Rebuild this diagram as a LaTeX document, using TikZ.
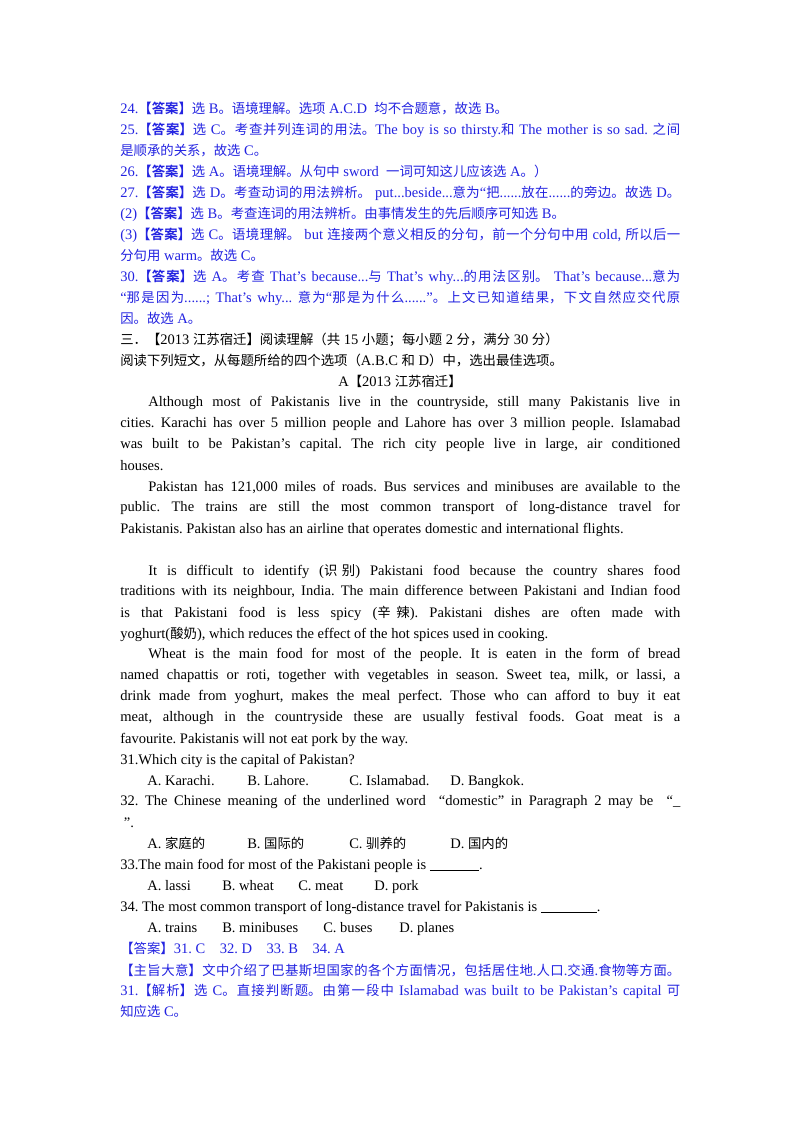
\documentclass[tikz,border=0pt]{standalone}
\usepackage{fontspec}
\setmainfont{Liberation Serif}
\newfontfamily\cjk[Scale=0.92]{Noto Sans CJK SC}
\newfontfamily\cjkb[Scale=0.92]{Noto Sans CJK SC Bold}
\definecolor{ansblue}{RGB}{35,35,225}
\XeTeXinterchartokenstate=1
\newXeTeXintercharclass\CJKcls
\count255="4E00 \loop \XeTeXcharclass\count255=\CJKcls \ifnum\count255<"9FFF \advance\count255 1 \repeat
\count255="3000 \loop \XeTeXcharclass\count255=\CJKcls \ifnum\count255<"303F \advance\count255 1 \repeat
\count255="FF00 \loop \XeTeXcharclass\count255=\CJKcls \ifnum\count255<"FFEF \advance\count255 1 \repeat
\XeTeXinterchartoks 0 \CJKcls = {\begingroup\cjk}
\XeTeXinterchartoks 4095 \CJKcls = {\begingroup\cjk}
\XeTeXinterchartoks \CJKcls 0 = {\endgroup}
\XeTeXinterchartoks \CJKcls 4095 = {\endgroup}
\XeTeXlinebreaklocale "zh"
\XeTeXlinebreakskip=0pt plus 1pt minus 0.3pt
\newcommand\DA{{\XeTeXinterchartokenstate=0 \cjkb 【答案】}}
\newcommand\ZZ{{\XeTeXinterchartokenstate=0 \cjk 【主旨大意】}}
\newcommand\JX{{\XeTeXinterchartokenstate=0 \cjk 【解析】}}
\newcommand\Lf[2]{\node[txt] at (120,#1) {\parbox{420pt}{\parfillskip=0pt\relax\hbadness=10000 #2}};}
\newcommand\Ln[2]{\node[txt] at (120,#1) {#2};}
\newcommand\Lx[3]{\node[txt] at (#1,#2) {#3};}
\tikzset{txt/.style={anchor=base west,inner sep=0pt,font=\fontsize{10.9pt}{13pt}\selectfont\frenchspacing}}
\begin{document}
\begin{tikzpicture}[x=0.75pt,y=-0.75pt]
\useasboundingbox[fill=white] (0,0) rectangle (800,1132);
\Ln{113}{\color{ansblue}24.\DA 选 B。语境理解。选项 A.C.D\ \ 均不合题意，故选 B。}
\Lf{134}{\color{ansblue}25.\DA 选 C。考查并列连词的用法。The boy is so thirsty.和 The mother is so sad. 之间}
\Ln{155}{\color{ansblue}是顺承的关系，故选 C。}
\Ln{176}{\color{ansblue}26.\DA 选 A。语境理解。从句中 sword\ \ 一词可知这儿应该选 A。）}
\Lf{197}{\color{ansblue}27.\DA 选 D。考查动词的用法辨析。 put...beside...意为“把......放在......的旁边。故选 D。}
\Ln{218}{\color{ansblue}(2)\DA 选 B。考查连词的用法辨析。由事情发生的先后顺序可知选 B。}
\Lf{239}{\color{ansblue}(3)\DA 选 C。语境理解。 but 连接两个意义相反的分句，前一个分句中用 cold, 所以后一}
\Ln{260}{\color{ansblue}分句用 warm。故选 C。}
\Lf{281}{\color{ansblue}30.\DA 选 A。考查 That’s because...与 That’s why...的用法区别。 That’s because...意为}
\Lf{302}{\color{ansblue}“那是因为......; That’s why... 意为“那是为什么......”。上文已知道结果，下文自然应交代原}
\Ln{323}{\color{ansblue}因。故选 A。}
\Ln{344}{三．【2013 江苏宿迁】阅读理解（共 15 小题；每小题 2 分，满分 30 分）}
\Ln{365}{阅读下列短文，从每题所给的四个选项（A.B.C 和 D）中，选出最佳选项。}
\node[txt,anchor=base] at (400,386) {A【2013 江苏宿迁】};
\Lf{407}{\hspace*{21pt}Although most of Pakistanis live in the countryside, still many Pakistanis live in}
\Lf{428}{cities. Karachi has over 5 million people and Lahore has over 3 million people. Islamabad}
\Lf{449}{was built to be Pakistan’s capital. The rich city people live in large, air conditioned}
\Ln{470}{houses.}
\Lf{491}{\hspace*{21pt}Pakistan has 121,000 miles of roads. Bus services and minibuses are available to the}
\Lf{512}{public. The trains are still the most common transport of long-distance travel for}
\Ln{533}{Pakistanis. Pakistan also has an airline that operates domestic and international flights.}
\Lf{575}{\hspace*{21pt}It is difficult to identify (识别) Pakistani food because the country shares food}
\Lf{596}{traditions with its neighbour, India. The main difference between Pakistani and Indian food}
\Lf{617}{is that Pakistani food is less spicy (辛辣). Pakistani dishes are often made with}
\Ln{638}{yoghurt(酸奶), which reduces the effect of the hot spices used in cooking.}
\Lf{659}{\hspace*{21pt}Wheat is the main food for most of the people. It is eaten in the form of bread}
\Lf{680}{named chapattis or roti, together with vegetables in season. Sweet tea, milk, or lassi, a}
\Lf{701}{drink made from yoghurt, makes the meal perfect. Those who can afford to buy it eat}
\Lf{722}{meat, although in the countryside these are usually festival foods. Goat meat is a}
\Ln{743}{favourite. Pakistanis will not eat pork by the way.}
\Ln{764}{31.Which city is the capital of Pakistan?}
\Lx{147}{785}{A.\ Karachi.}\Lx{247}{785}{B.\ Lahore.}\Lx{349}{785}{C.\ Islamabad.}\Lx{450}{785}{D.\ Bangkok.}
\Lf{806}{32. The Chinese meaning of the underlined word \ “domestic” in Paragraph 2 may be \ “\_}
\Ln{827}{\ ”.}
\Lx{147}{848}{A.\ 家庭的}\Lx{247}{848}{B.\ 国际的}\Lx{349}{848}{C.\ 驯养的}\Lx{450}{848}{D.\ 国内的}
\Ln{869}{33.The main food for most of the Pakistani people is \rule[-1pt]{37pt}{0.5pt}.}
\Lx{147}{890}{A.\ lassi}\Lx{222}{890}{B.\ wheat}\Lx{298}{890}{C.\ meat}\Lx{374}{890}{D.\ pork}
\Ln{911}{34. The most common transport of long-distance travel for Pakistanis is \rule[-1pt]{42pt}{0.5pt}.}
\Lx{147}{932}{A.\ trains}\Lx{222}{932}{B.\ minibuses}\Lx{323}{932}{C.\ buses}\Lx{399}{932}{D.\ planes}
\Ln{953}{\color{ansblue}【答案】31.\ C\quad 32.\ D\quad 33.\ B\quad 34.\ A}
\Lf{974}{\color{ansblue}\ZZ 文中介绍了巴基斯坦国家的各个方面情况，包括居住地.人口.交通.食物等方面。}
\Lf{995}{\color{ansblue}31.\JX 选 C。直接判断题。由第一段中 Islamabad was built to be Pakistan’s capital 可}
\Ln{1016}{\color{ansblue}知应选 C。}
\end{tikzpicture}
\end{document}
